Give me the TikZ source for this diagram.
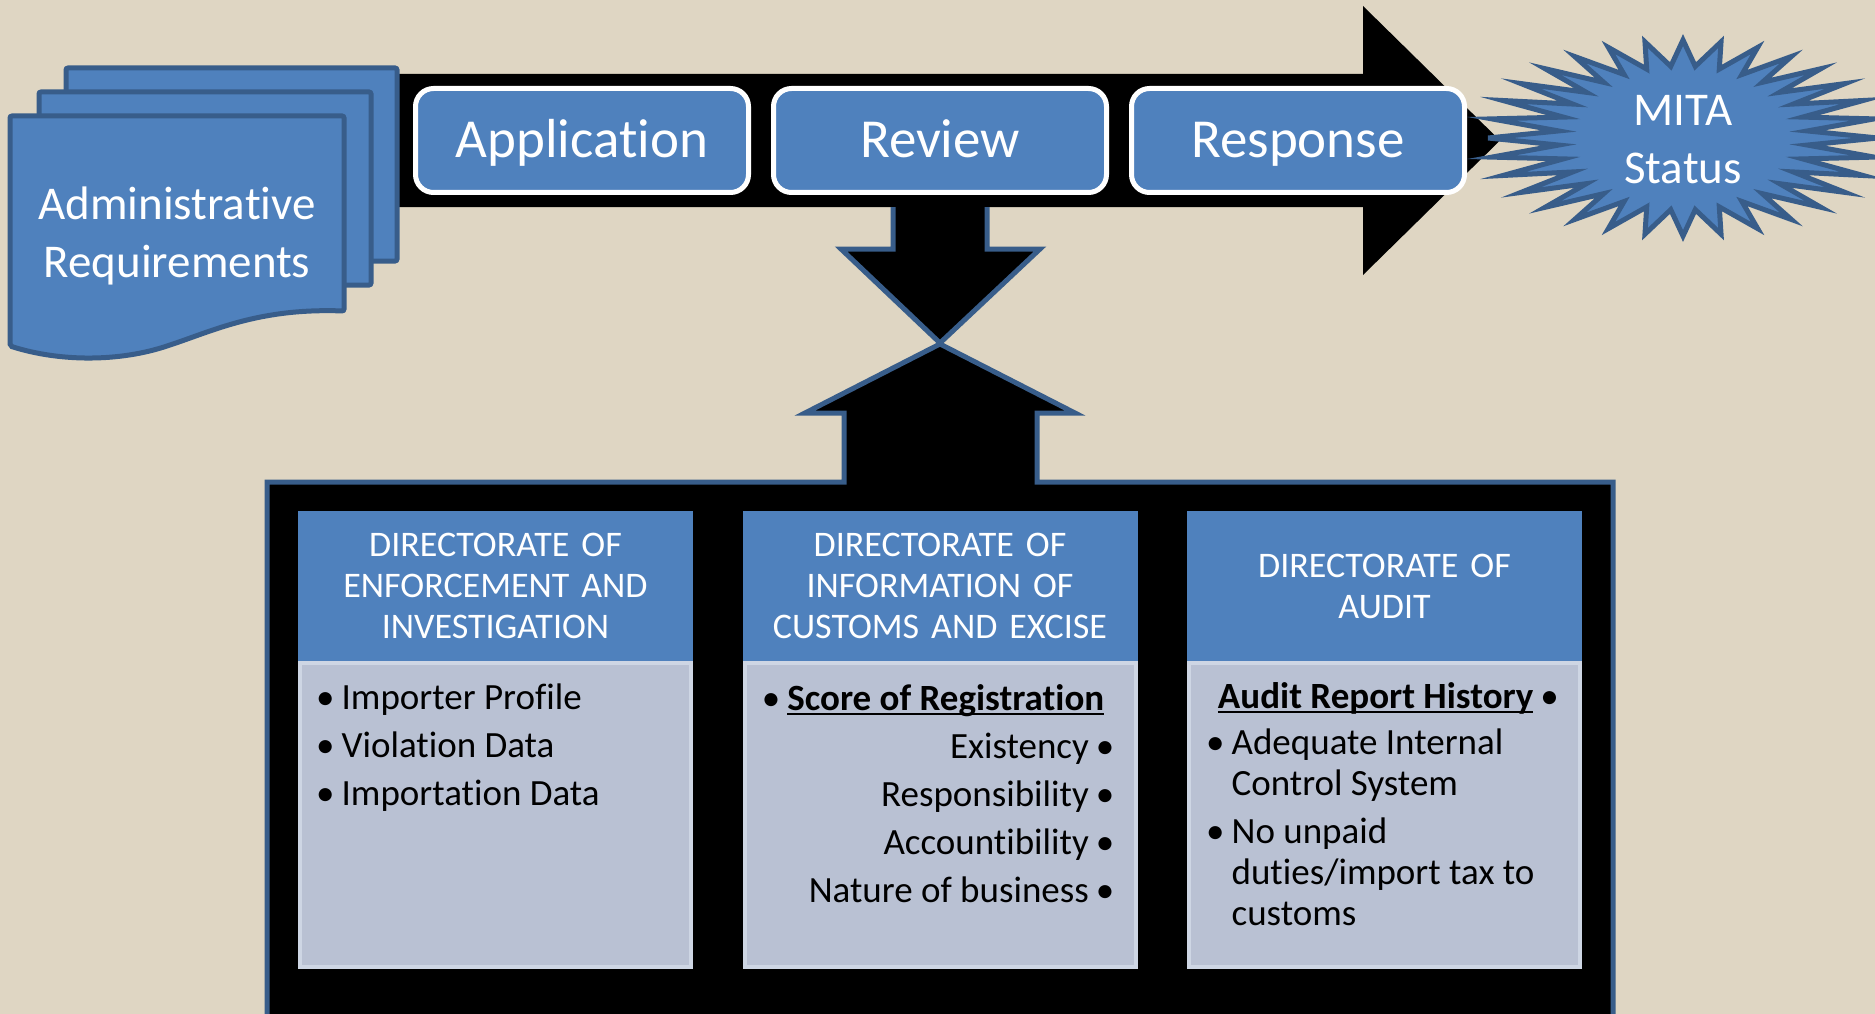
\documentclass[tikz,border=0pt]{standalone}
\usepackage{fontspec}
\setmainfont{Carlito}[Ligatures=NoCommon]
\usetikzlibrary{shapes,positioning}
\definecolor{ppblue}{RGB}{79,129,189}
\definecolor{ppline}{RGB}{56,93,138}
\definecolor{linen}{RGB}{223,214,195}
\definecolor{bodyfill}{RGB}{185,193,211}
\definecolor{bodyline}{RGB}{206,214,228}
\newsavebox{\ulbox}
\newcommand{\bul}{•\hspace{7pt}}
\newcommand{\lub}{\hspace{7pt}•}
\newcommand{\ulbf}[1]{\sbox{\ulbox}{\textbf{#1}}\rlap{\rule[-5pt]{\wd\ulbox}{2pt}}\usebox{\ulbox}}
\tikzstyle{stage} = [rectangle, draw=white, line width=5pt, fill=ppblue,
    rounded corners=18pt, minimum width=333pt, minimum height=104pt,
    text height=41pt, text depth=6pt, text=white, font=\fontsize{55}{60}\selectfont]
\tikzstyle{head} = [rectangle, fill=ppblue, minimum width=395pt, minimum height=150pt,
    text width=385pt, align=center, inner sep=0pt, text=white,
    font=\fontsize{36}{41}\selectfont]
\tikzstyle{body} = [rectangle, draw=bodyline, line width=4pt, fill=bodyfill,
    minimum width=391pt, minimum height=304pt]
\tikzstyle{list} = [inner sep=0pt, font=\fontsize{37}{48}\selectfont]
\tikzstyle{page} = [draw=ppline, line width=5pt, fill=ppblue, rounded corners=2pt]
\tikzstyle{outline} = [draw=ppline, line width=5pt]
\tikzstyle{label} = [align=center, inner sep=0pt, text=white, font=\fontsize{47}{58}\selectfont]

\begin{document}
\begin{tikzpicture}[x=1pt, y=-1pt, node distance=358pt]
  \clip (0,0) rectangle (1875,1014);
  \fill[linen] (0,0) rectangle (1875,1014);
   % Block arrows
    \fill (390,74) -- (1363,74) -- (1363,6) -- (1500,140.5) -- (1363,275) -- (1363,207) -- (390,207) -- cycle;
    \fill (893,205) -- (893,249) -- (841,249) -- (940,343) -- (1040,249) -- (987,249) -- (987,205) -- cycle;
    \draw[outline] (893,207) -- (893,249) -- (841,249) -- (940,343) -- (1040,249) -- (987,249) -- (987,207);
    \filldraw[outline, fill=black] (267,1030) -- (267,482) -- (844,482) -- (844,413) -- (805,413) -- (940,344)
      -- (1075,413) -- (1037,413) -- (1037,482) -- (1613,482) -- (1613,1030);
   % Documents
    \draw[page] (66,68) rectangle (397,261);
    \draw[page] (39,92) rectangle (371,285);
    \draw[page] (10,116) -- (344,116) -- (344,311) .. controls (260,308) and (215,330) .. (170,345)
      .. controls (120,362) and (60,362) .. (10,346) -- cycle;
    \node [label] (admin) at (177,236) {Administrative\\Requirements};
   % Place nodes
    \node [stage] (app) at (582,140.5) {Application};
    \node [stage, right of=app] (rev) {Review};
    \node [stage, right of=rev] (resp) {Response};
    \begin{scope}[shift={(1683,138)}]
      \draw[outline, fill=ppblue] (0:195 and 98) \foreach \k in {0,...,31} {
        -- ({\k*11.25+5.625}:125 and 72) -- ({(\k+1)*11.25}:195 and 98) } -- cycle;
    \end{scope}
    \node [label] (mita) at (1683,140) {MITA\\Status};
   % Directorates
    \node [head] (enf) at (495.5,586) {DIRECTORATE OF\\ENFORCEMENT AND\\INVESTIGATION};
    \node [head, right of=enf, node distance=444.5pt] (info) {DIRECTORATE OF\\INFORMATION OF\\CUSTOMS AND EXCISE};
    \node [head, right of=info, node distance=444.5pt] (aud) {DIRECTORATE OF\\AUDIT};
    \node [body, below of=enf, node distance=229pt] (enfbody) {};
    \node [body, below of=info, node distance=229pt] (infobody) {};
    \node [body, below of=aud, node distance=229pt] (audbody) {};
    \node [list, anchor=north west, align=left] (enflist) at ([shift={(18,23)}]enfbody.north west)
      {\bul Importer Profile\\\bul Violation Data\\\bul Importation Data};
    \node [list, anchor=north east, align=right] (infolist) at ([shift={(-23,23)}]infobody.north east)
      {\bul\ulbf{Score of Registration}\hspace*{10pt}\\Existency\lub\\Responsibility\lub\\Accountibility\lub\\Nature of business\lub};
    \node [list, anchor=north east] (audtop) at ([shift={(-23,21)}]audbody.north east)
      {\ulbf{Audit Report History}\lub};
    \node [list, anchor=north west, align=left, font=\fontsize{37}{41}\selectfont] (audlist)
      at ([shift={(19,68)}]audbody.north west)
      {\bul Adequate Internal\\\phantom{\bul}Control System\\[7pt]\bul No unpaid\\\phantom{\bul}duties/import tax to\\\phantom{\bul}customs};
  \end{tikzpicture}
\end{document}
